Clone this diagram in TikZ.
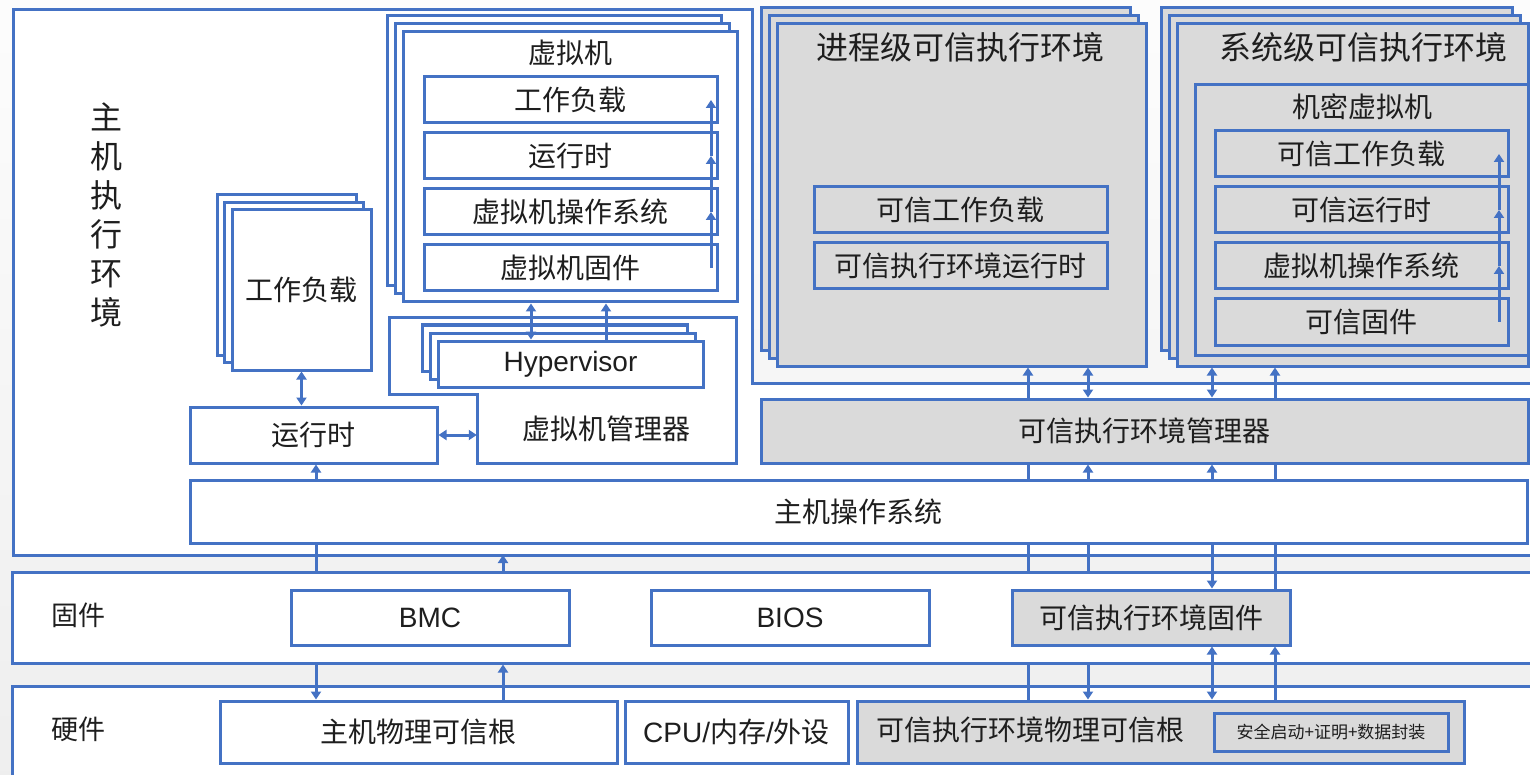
\documentclass[tikz,border=0pt]{standalone}
\usepackage{fontspec}
\setmainfont{Liberation Sans}
\newfontfamily\cjk{Noto Sans CJK SC}
\usepackage{tikz}
\usetikzlibrary{
    arrows.meta,
    shadows
}
\definecolor{lineblue}{RGB}{68,114,196}
\definecolor{teegray}{RGB}{218,218,218}
\definecolor{inkgray}{RGB}{30,30,30}
\tikzstyle{layer} = [
    rectangle,
    draw=lineblue,
    line width=3pt,
    fill=white,
    inner sep=0pt
]
\tikzstyle{block} = [
    layer,
    text=inkgray,
    font=\cjk\fontsize{28}{32}\selectfont
]
\tikzstyle{teeblock} = [
    block,
    fill=teegray
]
\tikzstyle{latin} = [
    font=\fontsize{28}{32}\selectfont
]
\tikzstyle{heading} = [
    text=inkgray,
    inner sep=0pt,
    font=\cjk\fontsize{28}{32}\selectfont
]
\tikzstyle{wire} = [
    line width=3pt,
    draw=lineblue
]
\tikzstyle{conn} = [
    wire,
    -{Triangle[length=8pt,width=10pt]}
]
\tikzstyle{biconn} = [
    wire,
    {Triangle[length=8pt,width=10pt]}-{Triangle[length=8pt,width=10pt]}
]
\tikzset{
    stack/.style 2 args={
        general shadow={shadow xshift=-2*#1, shadow yshift=2*#1,
            draw=lineblue, fill=#2, line width=3pt, opacity=1},
        general shadow={shadow xshift=-#1, shadow yshift=#1,
            draw=lineblue, fill=#2, line width=3pt, opacity=1}
    }
}

\begin{document}
\begin{tikzpicture}[x=1pt, y=-1pt]
        % Canvas
        \shade[top color=gray!2, bottom color=gray!13] (0,0) rectangle (1530,775);
        \useasboundingbox (0,0) rectangle (1530,775);
        \clip (0,0) rectangle (1530,775);

        % Columns of the vertical links
        \coordinate (colA) at (316,0);
        \coordinate (colB) at (503,0);
        \coordinate (colC) at (1028,0);
        \coordinate (colD) at (1088,0);
        \coordinate (colE) at (1212,0);
        \coordinate (colF) at (1275,0);
        \coordinate (vmcolA) at (531,0);
        \coordinate (vmcolB) at (606,0);
        \coordinate (vmup) at (711,0);
        \coordinate (cvmup) at (1499,0);

        % Host execution environment
        \draw[layer] (13,10) -- (752,10) -- (752,383) -- (1560,383) -- (1560,555) -- (13,555) -- cycle;
        \coordinate (hostbot) at (13,555);
        \node[heading, font=\cjk\fontsize{32}{39}\selectfont, align=center] (hostlbl) at (106,215) {主\\机\\执\\行\\环\\境};

        % Workload
        \node[block, stack={7.5pt}{white}, minimum width=139pt, minimum height=160pt] (wl) at (301.5,290) {工作负载};

        % Virtual machine
        \node[block, stack={8pt}{white}, minimum width=334pt, minimum height=270pt] (vm) at (570,167) {};
        \node[heading] (vmtitle) at (570,53) {虚拟机};
        \node[block, minimum width=293pt, minimum height=46pt] (vmwl) at (570.5,100) {工作负载};
        \node[block, minimum width=293pt, minimum height=46pt] (vmrt) at (570.5,156) {运行时};
        \node[block, minimum width=293pt, minimum height=46pt] (vmos) at (570.5,212) {虚拟机操作系统};
        \node[block, minimum width=293pt, minimum height=46pt] (vmfw) at (570.5,268) {虚拟机固件};

        % VMM and hypervisor
        \draw[layer] (389,318) -- (736,318) -- (736,463) -- (477,463) -- (477,394) -- (389,394) -- cycle;
        \node[heading, minimum width=259pt, minimum height=69pt] (vmm) at (606.5,428.5) {虚拟机管理器};
        \node[block, latin, stack={8pt}{white}, minimum width=265pt, minimum height=46pt] (hyp) at (570.5,364) {Hypervisor};

        % Runtime
        \node[block, minimum width=247pt, minimum height=56pt] (hostrt) at (313.5,435) {运行时};

        % Process-level TEE
        \node[teeblock, stack={8pt}{teegray}, minimum width=369pt, minimum height=342pt] (ptee) at (961.5,195) {};
        \node[heading, font=\cjk\fontsize{32}{36}\selectfont] (pteetitle) at (960,47) {进程级可信执行环境};
        \node[teeblock, minimum width=293pt, minimum height=46pt] (ptwl) at (960.5,210) {可信工作负载};
        \node[teeblock, minimum width=293pt, minimum height=46pt] (ptrt) at (960.5,266) {可信执行环境运行时};

        % System-level TEE
        \node[teeblock, stack={8pt}{teegray}, minimum width=351pt, minimum height=342pt] (stee) at (1352.5,195) {};
        \node[heading, font=\cjk\fontsize{32}{36}\selectfont] (steetitle) at (1363,47) {系统级可信执行环境};
        \node[teeblock, minimum width=333pt, minimum height=270pt] (cvm) at (1361.5,220) {};
        \node[heading] (cvmtitle) at (1362,107) {机密虚拟机};
        \node[teeblock, minimum width=293pt, minimum height=46pt] (cswl) at (1361.5,154) {可信工作负载};
        \node[teeblock, minimum width=293pt, minimum height=46pt] (csrt) at (1361.5,210) {可信运行时};
        \node[teeblock, minimum width=293pt, minimum height=46pt] (csos) at (1361.5,266) {虚拟机操作系统};
        \node[teeblock, minimum width=293pt, minimum height=46pt] (csfw) at (1361.5,322) {可信固件};

        % TEE manager and host OS
        \node[teeblock, minimum width=767pt, minimum height=64pt] (teemgr) at (1144.5,431) {可信执行环境管理器};
        \node[block, minimum width=1337pt, minimum height=63pt] (hostos) at (858.5,511.5) {主机操作系统};

        % Firmware
        \node[layer, minimum width=1548pt, minimum height=91pt] (fwband) at (786,617.5) {};
        \node[heading, font=\cjk\fontsize{27}{30}\selectfont] (fwlbl) at (78,615) {固件};
        \node[block, latin, minimum width=278pt, minimum height=55pt] (bmc) at (430,617.5) {BMC};
        \node[block, latin, minimum width=278pt, minimum height=55pt] (bios) at (790,617.5) {BIOS};
        \node[teeblock, minimum width=278pt, minimum height=55pt] (teefw) at (1151,617.5) {可信执行环境固件};

        % Hardware
        \node[layer, minimum width=1548pt, minimum height=114pt] (hwband) at (786,743) {};
        \node[heading, font=\cjk\fontsize{27}{30}\selectfont] (hwlbl) at (78,729) {硬件};
        \node[block, minimum width=397pt, minimum height=62pt] (hrot) at (418.5,732) {主机物理可信根};
        \node[block, latin, minimum width=223pt, minimum height=62pt] (cpu) at (736.5,732) {CPU/{\cjk 内存}/{\cjk 外设}};
        \node[teeblock, minimum width=607pt, minimum height=62pt] (trot) at (1160.5,732) {};
        \node[heading] (trotlbl) at (1030,730) {可信执行环境物理可信根};
        \node[teeblock, font=\cjk\fontsize{17}{20}\selectfont, minimum width=234pt, minimum height=38pt] (seal) at (1331,732) {安全启动+证明+数据封装};

        % Links in the host
        \draw[biconn] (wl.south) -- (wl.south |- hostrt.north);
        \draw[biconn] (hostrt.east) -- (hostrt.east -| vmm.west);
        \draw[conn] (hostos.north -| colA) -- (hostrt.south -| colA);
        \draw[biconn] (hyp.north -| vmcolA) -- (vm.south -| vmcolA);
        \draw[conn] (hyp.north -| vmcolB) -- (vm.south -| vmcolB);

        % Boot chains
        \draw[conn] (vmfw -| vmup) -- (vmos -| vmup);
        \draw[conn] (vmos -| vmup) -- (vmrt -| vmup);
        \draw[conn] (vmrt -| vmup) -- (vmwl -| vmup);
        \draw[conn] (csfw -| cvmup) -- (csos -| cvmup);
        \draw[conn] (csos -| cvmup) -- (csrt -| cvmup);
        \draw[conn] (csrt -| cvmup) -- (cswl -| cvmup);

        % TEEs to manager
        \draw[conn] (teemgr.north -| colC) -- (ptee.south -| colC);
        \draw[biconn] (ptee.south -| colD) -- (teemgr.north -| colD);
        \draw[biconn] (stee.south -| colE) -- (teemgr.north -| colE);
        \draw[conn] (teemgr.north -| colF) -- (stee.south -| colF);

        % Manager to host OS
        \draw[wire] (hostos.north -| colC) -- (teemgr.south -| colC);
        \draw[conn] (hostos.north -| colD) -- (teemgr.south -| colD);
        \draw[conn] (hostos.north -| colE) -- (teemgr.south -| colE);
        \draw[wire] (hostos.north -| colF) -- (teemgr.south -| colF);

        % Host OS to firmware
        \draw[wire] (hostos.south -| colA) -- (fwband.north -| colA);
        \draw[conn] (fwband.north -| colB) -- (hostbot -| colB);
        \draw[wire] (hostos.south -| colC) -- (fwband.north -| colC);
        \draw[wire] (hostos.south -| colD) -- (fwband.north -| colD);
        \draw[conn] (hostos.south -| colE) -- (teefw.north -| colE);
        \draw[wire] (hostos.south -| colF) -- (teefw.north -| colF);

        % Firmware to hardware
        \draw[conn] (fwband.south -| colA) -- (hrot.north -| colA);
        \draw[conn] (hrot.north -| colB) -- (fwband.south -| colB);
        \draw[wire] (fwband.south -| colC) -- (trot.north -| colC);
        \draw[conn] (fwband.south -| colD) -- (trot.north -| colD);
        \draw[biconn] (teefw.south -| colE) -- (trot.north -| colE);
        \draw[conn] (trot.north -| colF) -- (teefw.south -| colF);
    \end{tikzpicture}
\end{document}
